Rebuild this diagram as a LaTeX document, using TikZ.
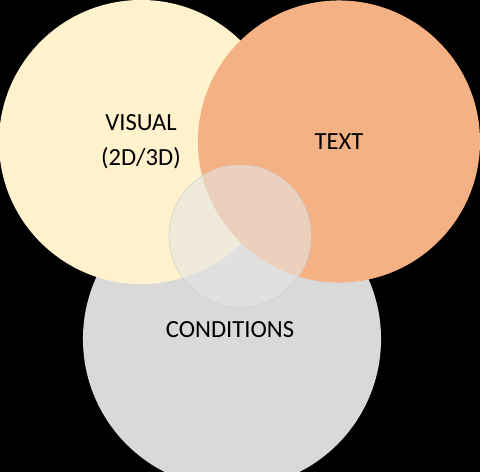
\documentclass[tikz,border=0pt]{standalone}
\usepackage{fontspec}
\setmainfont{Carlito}
\usetikzlibrary{positioning}

\begin{document}
\begin{tikzpicture}[
    x=0.025cm, y=-0.025cm,
    venn/.style={circle, inner sep=0pt, draw=none},
    label_node/.style={font=\fontsize{17.5}{25}\selectfont, align=center, text=black}
]

  % --- Color Definitions ---
  \definecolor{cvisual}{RGB}{255, 242, 204} % Light Gold
  \definecolor{ctext}{RGB}{244, 177, 131}   % Light Orange
  \definecolor{ccond}{RGB}{217, 217, 217}   % Soft Gray
  \definecolor{cjoin}{RGB}{231, 230, 230}   % Pale Gray

  % --- Canvas ---
  \fill[black] (0,0) rectangle (480,472);
  \useasboundingbox (0,0) rectangle (480,472);
  \clip (0,0) rectangle (480,472);

  % --- Circles ---
  \node[venn, fill=ccond,   minimum size=7.45cm] (cond)   at (232,339) {};
  \node[venn, fill=cvisual, minimum size=7.1cm]  (visual) at (141,142) {};
  \node[venn, fill=ctext,   minimum size=7.05cm] (text)   at (339,141.5) {};
  \node[venn, fill=cjoin, fill opacity=0.6, draw=black!18, line width=0.4pt,
        minimum size=3.55cm] (join) at (240,236) {};

  % --- Labels ---
  \node[label_node] (visual_lbl) at (visual) {VISUAL\\(2D/3D)};
  \node[label_node] (text_lbl)   at (text)   {TEXT};
  \node[label_node] (cond_lbl)   at (230,330) {CONDITIONS};

\end{tikzpicture}
\end{document}
